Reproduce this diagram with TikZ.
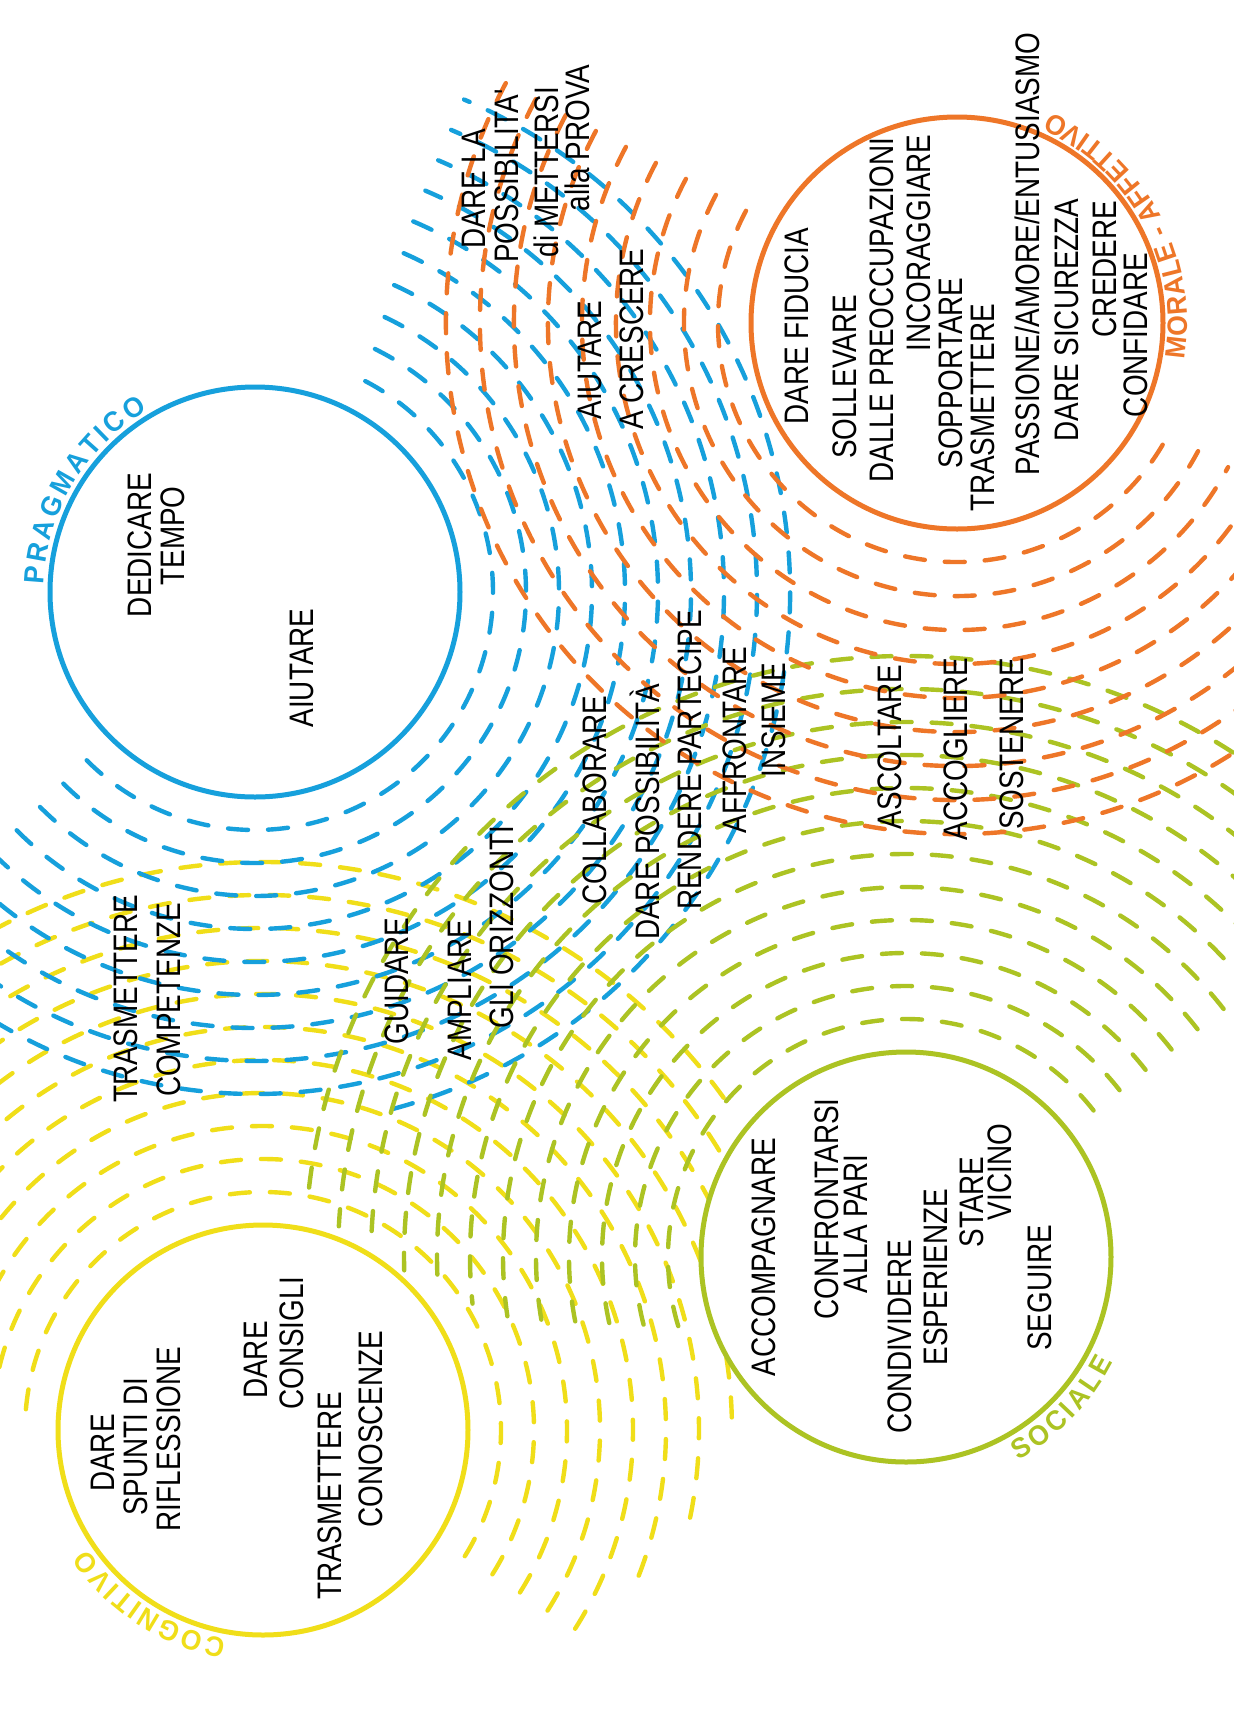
\documentclass[tikz,border=0pt]{standalone}
\usepackage{fontspec}
\setmainfont{Liberation Sans}
\newfontfamily\wordfont{Liberation Sans}[FakeStretch=0.82]
\newfontfamily\catfont{Liberation Sans}[FakeStretch=0.95]
\usetikzlibrary{calc,decorations.text}
\definecolor{cblue}{RGB}{22,160,220}
\definecolor{cyellow}{RGB}{240,222,25}
\definecolor{cgreen}{RGB}{172,195,35}
\definecolor{corange}{RGB}{238,118,40}
\newcommand\catlabel{\catfont\bfseries\fontsize{14}{14}\selectfont}

\begin{document}
\begin{tikzpicture}[x=0.5pt, y=0.5pt,
                    ring/.style={line width=2.2pt, line cap=round, dash pattern=on 10pt off 10pt},
                    disc/.style={fill=white, line width=2.5pt},
                    ]
    \tikzstyle{word}=[rotate=90, inner sep=0pt, font=\wordfont\fontsize{17}{17}\selectfont]
    \tikzstyle{cat}=[decorate, decoration={text along path, text align={fit to path}}]

    \fill[white] (0,0) rectangle (1234,-1709);
    \useasboundingbox (0,0) rectangle (1234,-1709);

    \coordinate (cprag) at (255,-592);
    \coordinate (ccogn) at (263,-1430);
    \coordinate (csoc)  at (906,-1257);
    \coordinate (cmor)  at (957,-323);

    \begin{scope}
    \clip (0,0) rectangle (1234,-1709);
    % yellow rings
    \foreach \k in {0,...,10} {
        \pgfmathsetmacro{\r}{238+33*\k}
        \pgfmathsetmacro{\e}{\r<370 ? -35 : -35+(\r-370)*0.35}
        \draw[ring, cyellow] ($(ccogn)+(175:\r)$) arc[start angle=175, end angle=\e, radius=\r];
    }
    % blue rings
    \foreach \k in {0,...,9} {
        \pgfmathsetmacro{\r}{238+33*\k}
        \pgfmathsetmacro{\s}{\r>520 ? -75 : -135}
        \draw[ring, cblue] ($(cprag)+(\s:\r)$) arc[start angle=\s, end angle=67, radius=\r];
    }
    % green rings
    \foreach \k in {0,...,11} {
        \pgfmathsetmacro{\r}{238+33*\k}
        \pgfmathsetmacro{\e}{200-(\r-238)*0.07}
        \draw[ring, cgreen] ($(csoc)+(38:\r)$) arc[start angle=38, end angle=\e, radius=\r];
    }
    % orange rings
    \foreach \k in {0,...,8} {
        \pgfmathsetmacro{\r}{239+34*\k}
        \draw[ring, corange] ($(cmor)+(152:\r)$) arc[start angle=152, end angle=332, radius=\r];
    }
    \end{scope}

    \draw[disc, draw=cblue]   (cprag) circle[radius=205];
    \draw[disc, draw=cyellow] (ccogn) circle[radius=205];
    \draw[disc, draw=cgreen]  (csoc)  circle[radius=205];
    \draw[disc, draw=corange] (cmor)  circle[radius=206];

    \path[cat, decoration={text={|\catlabel|PRAGMATICO}, text color=cblue}]
        ($(cprag)+(178:211)$) arc[start angle=178, end angle=120.5, radius=211];
    \path[cat, decoration={text={|\catlabel|COGNITIVO}, text color=cyellow}]
        ($(ccogn)+(-100:212)$) arc[start angle=-100, end angle=-146, radius=212];
    \path[cat, decoration={text={|\catlabel|SOCIALE}, text color=cgreen}]
        ($(csoc)+(-61:232)$) arc[start angle=-61, end angle=-27, radius=232];
    \path[cat, decoration={text={|\catlabel|MORALE - AFFETTIVO}, text color=corange}]
        ($(cmor)+(-9:230)$) arc[start angle=-9, end angle=66, radius=230];

    % pragmatico
    \node[word] (dedicare) at (140,-545) {DEDICARE};
    \node[word] (tempo) at (173,-536) {TEMPO};
    \node[word] (aiutare) at (302,-668) {AIUTARE};
    % cognitivo
    \node[word] (dare1) at (103,-1453) {DARE};
    \node[word] (spunti) at (136,-1447) {SPUNTI DI};
    \node[word] (riflessione) at (169,-1439) {RIFLESSIONE};
    \node[word] (dare2) at (256,-1360) {DARE};
    \node[word] (consigli) at (292,-1343) {CONSIGLI};
    \node[word] (trasmettere1) at (330,-1496) {TRASMETTERE};
    \node[word] (conoscenze) at (371,-1429) {CONOSCENZE};
    % sociale
    \node[word] (accompagnare) at (764,-1257) {ACCOMPAGNARE};
    \node[word] (confrontarsi) at (827,-1209) {CONFRONTARSI};
    \node[word] (allapari) at (856,-1224) {ALLA PARI};
    \node[word] (condividere) at (900,-1337) {CONDIVIDERE};
    \node[word] (esperienze) at (936,-1277) {ESPERIENZE};
    \node[word] (stare) at (972,-1202) {STARE};
    \node[word] (vicino) at (1000,-1172) {VICINO};
    \node[word] (seguire) at (1040,-1288) {SEGUIRE};
    % morale - affettivo
    \node[word] (fiducia) at (797,-326) {DARE FIDUCIA};
    \node[word] (sollevare) at (845,-377) {SOLLEVARE};
    \node[word] (preoccupazioni) at (882,-310) {DALLE PREOCCUPAZIONI};
    \node[word] (incoraggiare) at (919,-243) {INCORAGGIARE};
    \node[word] (sopportare) at (951,-373) {SOPPORTARE};
    \node[word] (trasmettere3) at (983,-408) {TRASMETTERE};
    \node[word] (passione) at (1027,-254) {PASSIONE/AMORE/ENTUSIASMO};
    \node[word] (sicurezza) at (1067,-320) {DARE SICUREZZA};
    \node[word] (credere) at (1105,-269) {CREDERE};
    \node[word] (confidare) at (1136,-335) {CONFIDARE};
    % in between
    \node[word] (trasmettere2) at (126,-999) {TRASMETTERE};
    \node[word] (competenze) at (169,-1000) {COMPETENZE};
    \node[word] (guidare) at (397,-981) {GUIDARE};
    \node[word] (ampliare) at (460,-990) {AMPLIARE};
    \node[word] (orizzonti) at (502,-927) {GLI ORIZZONTI};
    \node[word] (collaborare) at (595,-800) {COLLABORARE};
    \node[word] (possibilita) at (645,-812) {DARE POSSIBILITÀ};
    \node[word] (partecipe) at (690,-760) {RENDERE PARTECIPE};
    \node[word] (affrontare) at (735,-740) {AFFRONTARE};
    \node[word] (insieme) at (774,-720) {INSIEME};
    \node[word] (ascoltare) at (890,-747) {ASCOLTARE};
    \node[word] (accogliere) at (956,-749) {ACCOGLIERE};
    \node[word] (sostenere) at (1012,-744) {SOSTENERE};
    \node[word] (aiutare2) at (590,-360) {AIUTARE};
    \node[word] (crescere) at (632,-339) {A CRESCERE};
    \node[word] (darela) at (474,-189) {DARE LA};
    \node[word] (possib) at (507,-176) {POSSIBILITA'};
    \node[word] (mettersi) at (546,-172) {di METTERSI};
    \node[word] (prova) at (577,-138) {alla PROVA};
\end{tikzpicture}
\end{document}
